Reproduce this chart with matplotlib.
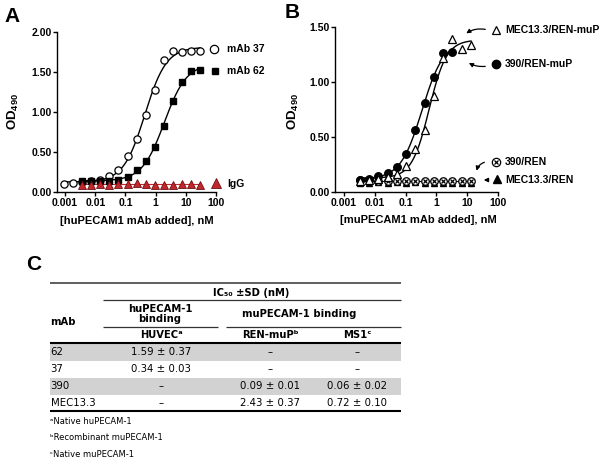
import numpy as np
import matplotlib
matplotlib.use("Agg")
import matplotlib.pyplot as plt
from matplotlib.lines import Line2D
from matplotlib.patches import Rectangle, FancyArrowPatch

plt.rcParams['font.family'] = ['Liberation Sans', 'DejaVu Sans']
plt.rcParams['mathtext.fontset'] = 'custom'
plt.rcParams['mathtext.rm'] = 'Liberation Sans'
plt.rcParams['mathtext.bf'] = 'Liberation Sans:bold'

# ---------------- data ----------------
conc_a = [0.000916, 0.00183, 0.00366, 0.00732, 0.0146, 0.0293, 0.0586, 0.117,
          0.234, 0.469, 0.938, 1.88, 3.75, 7.5, 15.0, 30.0]
od_mab37 = [0.10, 0.11, 0.125, 0.14, 0.15, 0.20, 0.27, 0.45, 0.66, 0.96, 1.28,
            1.65, 1.76, 1.745, 1.76, 1.76]
conc_a62 = conc_a[2:]
od_mab62 = [0.14, 0.14, 0.14, 0.14, 0.15, 0.19, 0.27, 0.39, 0.565, 0.83, 1.14,
            1.37, 1.51, 1.52]
conc_igg = conc_a[2:]
od_igg = [0.09, 0.09, 0.10, 0.09, 0.10, 0.10, 0.11, 0.10, 0.09, 0.09, 0.09,
          0.10, 0.10, 0.09]

conc_b = [0.00325, 0.0065, 0.013, 0.026, 0.052, 0.104, 0.208, 0.416, 0.831,
          1.66, 3.33, 6.65, 13.3]
od_390_renmup = [0.11, 0.12, 0.145, 0.175, 0.23, 0.345, 0.565, 0.81, 1.04,
                 1.26, 1.27]
od_mec_renmup = [0.10, 0.11, 0.12, 0.14, 0.16, 0.24, 0.39, 0.56, 0.875, 1.22,
                 1.385, 1.30, 1.33]
od_390_ren = [0.11, 0.11, 0.10, 0.10, 0.10, 0.10, 0.10, 0.10, 0.10, 0.10,
              0.10, 0.10, 0.10]
od_mec_ren = [0.08, 0.08, 0.09, 0.08, 0.09, 0.08, 0.09, 0.08, 0.08, 0.08,
              0.08, 0.08, 0.08]

x_ticks = [0.001, 0.01, 0.1, 1, 10, 100]
x_ticklabels = ['0.001', '0.01', '0.1', '1', '10', '100']
yticks_a = [0.0, 0.5, 1.0, 1.5, 2.0]
yticks_b = [0.0, 0.5, 1.0, 1.5]

table_title = 'IC\u2085\u2080 \u00b1SD (nM)'
table_group1 = 'huPECAM-1\nbinding'
table_group2 = 'muPECAM-1 binding'
table_cols = ['mAb', 'HUVEC\u1d43', 'REN-muP\u1d47', 'MS1\u1d9c']
table_rows = [
    ['62', '1.59 \u00b1 0.37', '\u2013', '\u2013'],
    ['37', '0.34 \u00b1 0.03', '\u2013', '\u2013'],
    ['390', '\u2013', '0.09 \u00b1 0.01', '0.06 \u00b1 0.02'],
    ['MEC13.3', '\u2013', '2.43 \u00b1 0.37', '0.72 \u00b1 0.10'],
]
footnotes = ['\u1d43Native huPECAM-1', '\u1d47Recombinant muPECAM-1',
             '\u1d9cNative muPECAM-1']

# ---------------- helpers ----------------
W, H = 609, 461
fig = plt.figure(figsize=(W / 100, H / 100), dpi=100)


def fx(px):
    return px / W


def fy(py):
    return 1 - py / H


def fit_4pl(x, y):
    lx = np.log10(np.asarray(x, float))
    y = np.asarray(y, float)
    lec = np.linspace(lx.min(), lx.max(), 400)[:, None, None]
    h = np.linspace(0.5, 3.0, 126)[None, :, None]
    s = 1.0 / (1.0 + 10 ** ((lec - lx[None, None, :]) * h))
    sm = s.mean(-1, keepdims=True)
    ym = y.mean()
    cov = ((s - sm) * (y - ym)).sum(-1)
    var = ((s - sm) ** 2).sum(-1)
    slope = cov / var
    icpt = ym - slope * sm[..., 0]
    pred = icpt[..., None] + slope[..., None] * s
    r = ((pred - y) ** 2).sum(-1)
    i, j = np.unravel_index(np.argmin(r), r.shape)
    return lec[i, 0, 0], h[0, j, 0], icpt[i, j], slope[i, j]


def curve(x, y):
    lec, hh, b, c = fit_4pl(x, y)
    xs = np.logspace(np.log10(min(x)), np.log10(max(x)), 300)
    ys = b + c / (1 + 10 ** ((lec - np.log10(xs)) * hh))
    return xs, ys


def style_axes(ax, ymax, yticks):
    ax.set_xscale('log')
    ax.set_ylim(0, ymax)
    ax.set_xticks(x_ticks)
    ax.set_xticklabels(x_ticklabels)
    ax.set_yticks(yticks)
    ax.set_yticklabels(['%.2f' % v for v in yticks])
    for s in ['top', 'right']:
        ax.spines[s].set_visible(False)
    for s in ['left', 'bottom']:
        ax.spines[s].set_linewidth(1.0)
    ax.tick_params(axis='both', which='major', length=3, width=1, pad=1,
                   labelsize=7.5)
    ax.tick_params(axis='x', which='minor', length=2, width=0.8)
    for lab in ax.get_xticklabels() + ax.get_yticklabels():
        lab.set_fontweight('bold')
    ax.patch.set_alpha(0)


def fig_marker(px, py, **kw):
    fig.add_artist(Line2D([fx(px)], [fy(py)], transform=fig.transFigure,
                          linestyle='none', **kw))


red = '#C3272C'
red_edge = '#6b1214'

# ---------------- Panel A ----------------
axA = fig.add_axes([fx(57), fy(192), fx(216) - fx(57), fy(32) - fy(192)])
style_axes(axA, 2.0, yticks_a)
axA.set_xlim(0.00054, 100)

xs, ys = curve(conc_a, od_mab37)
axA.plot(xs, ys, color='black', lw=1.0, zorder=2)
xs, ys = curve(conc_a62, od_mab62)
axA.plot(xs, ys, color='black', lw=1.0, zorder=2)
axA.plot([min(conc_igg), max(conc_igg)], [np.mean(od_igg)] * 2, color=red,
         lw=0.8, zorder=2)
axA.plot(conc_a, od_mab37, 'o', ms=5.2, mfc='white', mec='black', mew=0.9,
         clip_on=False, zorder=3)
axA.plot(conc_a62, od_mab62, 's', ms=4.8, mfc='black', mec='black',
         clip_on=False, zorder=4)
axA.plot(conc_igg, od_igg, '^', ms=5.6, mfc=red, mec=red_edge, mew=0.6,
         clip_on=False, zorder=5)

fig.text(fx(13), fy(111), r'$\mathbf{OD}_{\mathbf{490}}$', rotation=90,
         ha='center', va='center', fontsize=9.5)
fig.text(fx(137), fy(221), '[huPECAM1 mAb added], nM', ha='center',
         va='center', fontsize=8, fontweight='bold')

fig_marker(214, 49, marker='o', ms=6, mfc='white', mec='black', mew=0.9)
fig.text(fx(227), fy(49), 'mAb 37', ha='left', va='center', fontsize=7.5,
         fontweight='bold')
fig_marker(215, 71, marker='s', ms=5, mfc='black', mec='black')
fig.text(fx(227), fy(71), 'mAb 62', ha='left', va='center', fontsize=7.5,
         fontweight='bold')
fig_marker(216, 183, marker='^', ms=6.5, mfc=red, mec=red_edge, mew=0.6)
fig.text(fx(227), fy(184), 'IgG', ha='left', va='center', fontsize=7.5,
         fontweight='bold')

# ---------------- Panel B ----------------
axB = fig.add_axes([fx(335), fy(192), fx(498) - fx(335), fy(26.7) - fy(192)])
style_axes(axB, 1.5, yticks_b)
axB.set_xlim(0.00051, 100)

xs, ys = curve(conc_b[:len(od_390_renmup)], od_390_renmup)
axB.plot(xs, ys, color='black', lw=1.0, zorder=2)
xs, ys = curve(conc_b, od_mec_renmup)
axB.plot(xs, ys, color='black', lw=1.0, zorder=2)
axB.plot([min(conc_b), max(conc_b)], [np.mean(od_390_ren)] * 2,
         color='black', lw=0.8, zorder=2)
axB.plot(conc_b, od_mec_ren, '^', ms=5, mfc='black', mec='black',
         clip_on=False, zorder=3)
axB.plot(conc_b, od_390_ren, 'o', ms=5.4, mfc='white', mec='black', mew=0.9,
         clip_on=False, zorder=4)
axB.plot(conc_b, od_390_ren, 'x', ms=3.2, mec='black', mew=0.9,
         clip_on=False, zorder=5)
axB.plot(conc_b[:len(od_390_renmup)], od_390_renmup, 'o', ms=5.4,
         mfc='black', mec='black', clip_on=False, zorder=4)
axB.plot(conc_b, od_mec_renmup, '^', ms=5.4, mfc='white', mec='black',
         mew=0.9, clip_on=False, zorder=5)

fig.text(fx(293), fy(111), r'$\mathbf{OD}_{\mathbf{490}}$', rotation=90,
         ha='center', va='center', fontsize=9.5)
fig.text(fx(418), fy(220), '[muPECAM1 mAb added], nM', ha='center',
         va='center', fontsize=8, fontweight='bold')

fig_marker(496, 30, marker='^', ms=6, mfc='white', mec='black', mew=0.9)
fig.text(fx(505), fy(30), 'MEC13.3/REN-muP', ha='left', va='center',
         fontsize=7.5, fontweight='bold')
fig_marker(496, 64, marker='o', ms=6, mfc='black', mec='black')
fig.text(fx(505), fy(64), '390/REN-muP', ha='left', va='center',
         fontsize=7.5, fontweight='bold')
fig_marker(496, 162, marker='o', ms=6, mfc='white', mec='black', mew=0.9)
fig_marker(496, 162, marker='x', ms=3.5, mec='black', mew=0.9)
fig.text(fx(505), fy(162), '390/REN', ha='left', va='center',
         fontsize=7.5, fontweight='bold')
fig_marker(497, 179.5, marker='^', ms=5.5, mfc='black', mec='black')
fig.text(fx(505), fy(180), 'MEC13.3/REN', ha='left', va='center',
         fontsize=7.5, fontweight='bold')


def arrow(p0, p1, rad):
    a = FancyArrowPatch((fx(p0[0]), fy(p0[1])), (fx(p1[0]), fy(p1[1])),
                        transform=fig.transFigure, arrowstyle='-|>',
                        mutation_scale=6, lw=0.9, color='black',
                        connectionstyle='arc3,rad=%g' % rad)
    fig.add_artist(a)


arrow((488, 30), (464, 35), 0.25)
arrow((488, 66), (466.5, 61.5), -0.2)
arrow((487, 161.5), (476, 173.5), 0.35)
arrow((491.5, 180), (481, 180), 0.0)

# ---------------- panel letters ----------------
for letter, px, py in [('A', 12.5, 16), ('B', 292.5, 12), ('C', 34, 264)]:
    fig.text(fx(px), fy(py), letter, ha='center', va='center', fontsize=15,
             fontweight='bold')

# ---------------- Table (panel C) ----------------
TF = ['DejaVu Sans']
tl, tr = 50, 401


def hline(y, x0, x1, lw, color='black'):
    fig.add_artist(Line2D([fx(x0), fx(x1)], [fy(y), fy(y)],
                          transform=fig.transFigure, lw=lw, color=color,
                          solid_capstyle='butt'))


row_y = [352, 369, 386, 403]
row_edges = [343.5, 360.5, 377.5, 394.5, 411]
for i in range(len(table_rows)):
    if i % 2 == 0:
        fig.add_artist(Rectangle((fx(tl), fy(row_edges[i + 1])),
                                 fx(tr) - fx(tl),
                                 fy(row_edges[i]) - fy(row_edges[i + 1]),
                                 transform=fig.transFigure,
                                 facecolor='#d2d2d2', edgecolor='none'))

hline(283.3, tl, tr, 1.1, '#333333')
fig.text(fx(251), fy(292.5), table_title, ha='center', va='center',
         fontsize=7.2, fontweight='bold', family=TF)
hline(300, 102.5, tr, 0.9, '#333333')
fig.text(fx(160), fy(314), table_group1, ha='center', va='center',
         fontsize=7.2, fontweight='bold', family=TF, linespacing=1.05)
fig.text(fx(299), fy(314), table_group2, ha='center', va='center',
         fontsize=7.2, fontweight='bold', family=TF)
hline(326.7, 102.5, 218, 0.9, '#333333')
hline(326.7, 226, tr, 0.9, '#333333')
fig.text(fx(50.5), fy(321.7), table_cols[0], ha='left', va='center',
         fontsize=7.2, fontweight='bold', family=TF)
col_x = [161, 270, 357]
for cx, lab in zip(col_x, table_cols[1:]):
    fig.text(fx(cx), fy(335), lab, ha='center', va='center', fontsize=7.2,
             fontweight='bold', family=TF)
hline(343.3, tl, tr, 1.5)
for ry, row in zip(row_y, table_rows):
    fig.text(fx(50.5), fy(ry), row[0], ha='left', va='center', fontsize=7.3,
             family=TF)
    for cx, val in zip(col_x, row[1:]):
        fig.text(fx(cx), fy(ry), val, ha='center', va='center', fontsize=7.3,
                 family=TF)
hline(411, tl, tr, 1.5)
for fyv, note in zip([421, 437.7, 454.3], footnotes):
    fig.text(fx(50.5), fy(fyv), note, ha='left', va='center', fontsize=6,
             family=TF)

fig.savefig('out.png', dpi=100)
